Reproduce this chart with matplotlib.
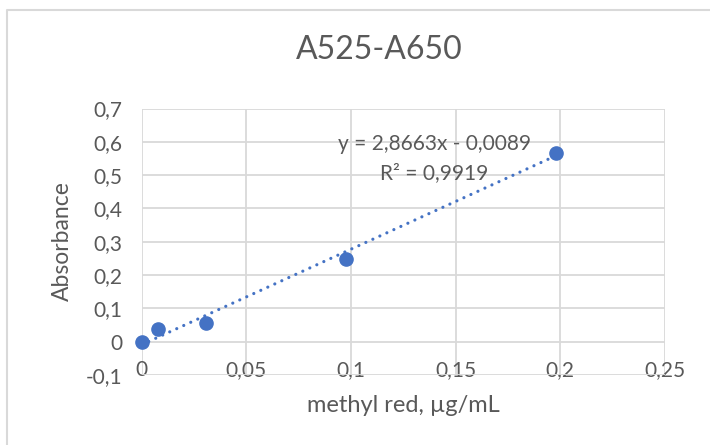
import matplotlib
matplotlib.use("Agg")
import matplotlib.pyplot as plt
from matplotlib.lines import Line2D
import numpy as np

plt.rcParams['font.family'] = ['Lato', 'DejaVu Sans']

# Data
conc = [0.0, 0.0078, 0.0307, 0.0977, 0.198]
absorbance = [0.0, 0.037, 0.055, 0.247, 0.567]
slope = 2.8663
intercept = -0.0089
equation_text = "y = 2,8663x - 0,0089"
r2_text = "R² = 0,9919"
x_ticks = [0, 0.05, 0.1, 0.15, 0.2, 0.25]
x_tick_labels = ["0", "0,05", "0,1", "0,15", "0,2", "0,25"]
y_ticks = [-0.1, 0, 0.1, 0.2, 0.3, 0.4, 0.5, 0.6, 0.7]
y_tick_labels = ["-0,1", "0", "0,1", "0,2", "0,3", "0,4", "0,5", "0,6", "0,7"]
title = "A525-A650"
xlabel = "methyl red, µg/mL"
ylabel = "Absorbance"

W, H = 710, 445
fig = plt.figure(figsize=(W / 100, H / 100), dpi=100)
fig.patch.set_facecolor("white")

TXT = "#595959"
GRID = "#d9d9d9"
BLUE = "#4472C4"

def fx(px):
    return px / W
def fy(py):
    return 1 - py / H

# chart border (light grey)
fig.add_artist(Line2D([fx(7), fx(7), fx(712)], [fy(447), fy(10), fy(10)],
                      transform=fig.transFigure, color=GRID, lw=1.5))

ax = fig.add_axes([fx(141.7), fy(375), fx(665) - fx(141.7), fy(108.5) - fy(375)])
ax.set_xlim(0, 0.25)
ax.set_ylim(-0.1, 0.7)
for s in ax.spines.values():
    s.set_visible(False)
ax.set_xticks(x_ticks)
ax.set_xticklabels(x_tick_labels)
ax.set_yticks(y_ticks)
ax.set_yticklabels(y_tick_labels)
ax.grid(True, color=GRID, lw=1.3)
ax.set_axisbelow(True)
ax.tick_params(length=0, labelsize=15, labelcolor=TXT)
ax.tick_params(axis='x', pad=-10.5)
ax.tick_params(axis='y', pad=14)

# trendline
xl = np.array([min(conc), max(conc)])
ax.plot(xl, slope * xl + intercept, color=BLUE, lw=2.3,
        linestyle=(0, (0.01, 2.4)), dash_capstyle='round', zorder=3)

ax.plot(conc, absorbance, 'o', color=BLUE, markersize=9.5, clip_on=False, zorder=4)

ax.text(fx(434.5), fy(144), equation_text, transform=fig.transFigure,
        ha='center', va='center', fontsize=15, color=TXT)
ax.text(fx(434.5), fy(173), r2_text, transform=fig.transFigure,
        ha='center', va='center', fontsize=15, color=TXT)

fig.text(fx(379), fy(50), title, ha='center', va='center', fontsize=23, color=TXT)
fig.text(fx(403), fy(405), xlabel, ha='center', va='center', fontsize=17, color=TXT)
fig.text(fx(62), fy(241), ylabel, ha='center', va='center', fontsize=16.5,
         color=TXT, rotation=90)

fig.savefig("out.png", dpi=100, facecolor="white")
